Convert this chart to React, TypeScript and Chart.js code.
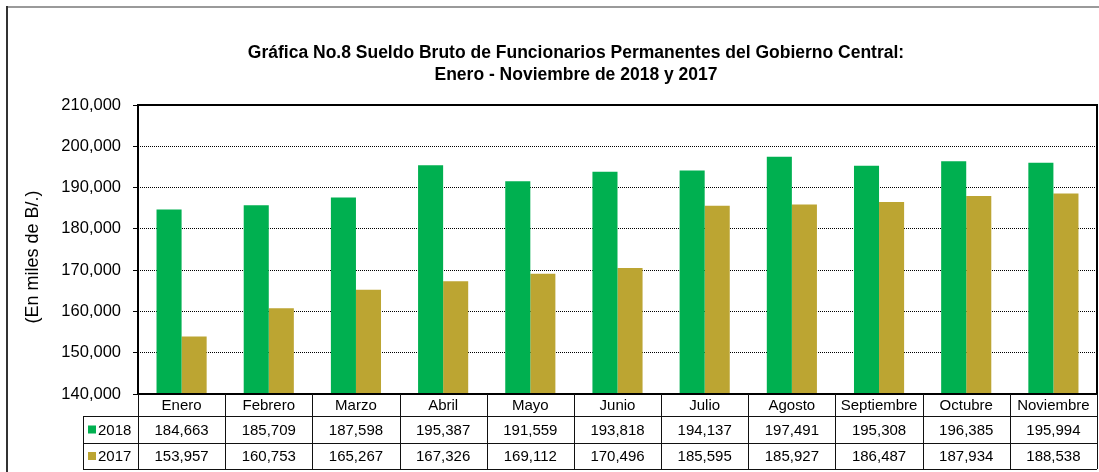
import React, { useEffect, useRef } from "react";
import { Chart, registerables } from "chart.js";

Chart.register(...registerables);

const titleLines = [
  "Gráfica No.8 Sueldo Bruto de Funcionarios Permanentes del Gobierno Central:",
  "Enero - Noviembre de 2018 y 2017",
];
const yAxisTitle = "(En miles de B/.)";
const categories = [
  "Enero", "Febrero", "Marzo", "Abril", "Mayo", "Junio",
  "Julio", "Agosto", "Septiembre", "Octubre", "Noviembre",
];
const seriesLabels = ["2018", "2017"];
const values2018 = [184663, 185709, 187598, 195387, 191559, 193818, 194137, 197491, 195308, 196385, 195994];
const values2017 = [153957, 160753, 165267, 167326, 169112, 170496, 185595, 185927, 186487, 187934, 188538];
const yMin = 140000;
const yMax = 210000;
const yStep = 10000;

const GREEN = "#00B050";
const GOLD = "#BCA532";
const FONT = "'Liberation Sans', Arial, sans-serif";

const fmt = (v: number) => v.toLocaleString("en-US");

const decorPlugin = {
  id: "decor",
  afterDraw(chart: any) {
    const ctx = chart.ctx as CanvasRenderingContext2D;
    const area = chart.chartArea;
    const x = chart.scales.x;
    ctx.save();

    // outer frame
    ctx.lineWidth = 2;
    ctx.strokeStyle = "#9a9a9a";
    ctx.beginPath();
    ctx.moveTo(7, 7);
    ctx.lineTo(chart.width, 7);
    ctx.stroke();
    ctx.strokeStyle = "#333";
    ctx.beginPath();
    ctx.moveTo(7, 6);
    ctx.lineTo(7, chart.height);
    ctx.stroke();

    // title
    ctx.fillStyle = "#000";
    ctx.font = `bold 17.5px ${FONT}`;
    ctx.textAlign = "center";
    ctx.textBaseline = "alphabetic";
    ctx.fillText(titleLines[0], 576, 58);
    ctx.fillText(titleLines[1], 576, 80);

    // y axis title
    ctx.save();
    ctx.translate(33, 257);
    ctx.rotate(-Math.PI / 2);
    ctx.textBaseline = "middle";
    ctx.font = `18px ${FONT}`;
    ctx.fillText(yAxisTitle, 0, 0);
    ctx.restore();

    // plot border
    ctx.lineWidth = 2;
    ctx.strokeStyle = "#000";
    ctx.strokeRect(area.left, area.top, area.right - area.left, area.bottom - area.top);

    // data table
    const n = categories.length;
    const colW = (area.right - area.left) / n;
    const top = area.bottom;
    const hdrB = top + 22;
    const r1B = top + 49;
    const r2B = top + 75;
    const legL = 83;
    ctx.lineWidth = 1;
    ctx.strokeStyle = "#111";
    ctx.beginPath();
    for (let i = 0; i <= n; i++) {
      const lx = Math.round(area.left + i * colW) + 0.5;
      ctx.moveTo(lx, top);
      ctx.lineTo(lx, r2B);
    }
    [hdrB, r1B, r2B].forEach((yy) => {
      ctx.moveTo(legL, yy + 0.5);
      ctx.lineTo(area.right, yy + 0.5);
    });
    ctx.moveTo(legL + 0.5, hdrB);
    ctx.lineTo(legL + 0.5, r2B);
    ctx.stroke();

    ctx.font = `15px ${FONT}`;
    ctx.fillStyle = "#000";
    ctx.textAlign = "center";
    ctx.textBaseline = "middle";
    categories.forEach((c, i) => {
      const cx = x.getPixelForValue(i);
      ctx.fillText(c, cx, (top + hdrB) / 2 + 1);
      ctx.fillText(fmt(values2018[i]), cx, (hdrB + r1B) / 2 + 1);
      ctx.fillText(fmt(values2017[i]), cx, (r1B + r2B) / 2 + 1);
    });

    // legend keys
    const rows = [
      { label: seriesLabels[0], color: GREEN, y: (hdrB + r1B) / 2 },
      { label: seriesLabels[1], color: GOLD, y: (r1B + r2B) / 2 },
    ];
    ctx.textAlign = "left";
    rows.forEach((r) => {
      ctx.fillStyle = r.color;
      ctx.fillRect(legL + 5, r.y - 4, 8, 8);
      ctx.fillStyle = "#000";
      ctx.fillText(r.label, legL + 15, r.y + 1);
    });

    ctx.restore();
  },
};

export default function App() {
  const ref = useRef<HTMLCanvasElement>(null);
  useEffect(() => {
    if (!ref.current) return;
    const chart = new Chart(ref.current, {
      type: "bar",
      data: {
        labels: categories,
        datasets: [
          { label: seriesLabels[0], data: values2018, backgroundColor: GREEN, borderWidth: 0 },
          { label: seriesLabels[1], data: values2017, backgroundColor: GOLD, borderWidth: 0 },
        ],
      },
      options: {
        responsive: false,
        animation: false,
        devicePixelRatio: 1,
        layout: { padding: { left: 0, top: 105, right: 2, bottom: 78 } },
        datasets: { bar: { categoryPercentage: 0.575, barPercentage: 1 } },
        plugins: { legend: { display: false }, title: { display: false }, tooltip: { enabled: false } },
        scales: {
          x: { display: false },
          y: {
            min: yMin,
            max: yMax,
            ticks: {
              stepSize: yStep,
              padding: 12,
              color: "#000",
              font: { family: FONT, size: 16.5 },
              callback: (v: any) => fmt(Number(v)),
            },
            grid: {
              color: "#000",
              lineWidth: 1,
              tickLength: 5,
              tickColor: "#000",
              tickBorderDash: [],
            },
            border: { display: false, dash: [1, 1] },
            afterFit: (s: any) => {
              s.width = 138;
            },
          },
        },
      },
      plugins: [decorPlugin],
    } as any);
    return () => chart.destroy();
  }, []);
  return (
    <div style={{ position: "absolute", left: 0, top: 0, width: 1099, height: 472, background: "#fff" }}>
      <canvas ref={ref} width={1099} height={472} />
    </div>
  );
}
